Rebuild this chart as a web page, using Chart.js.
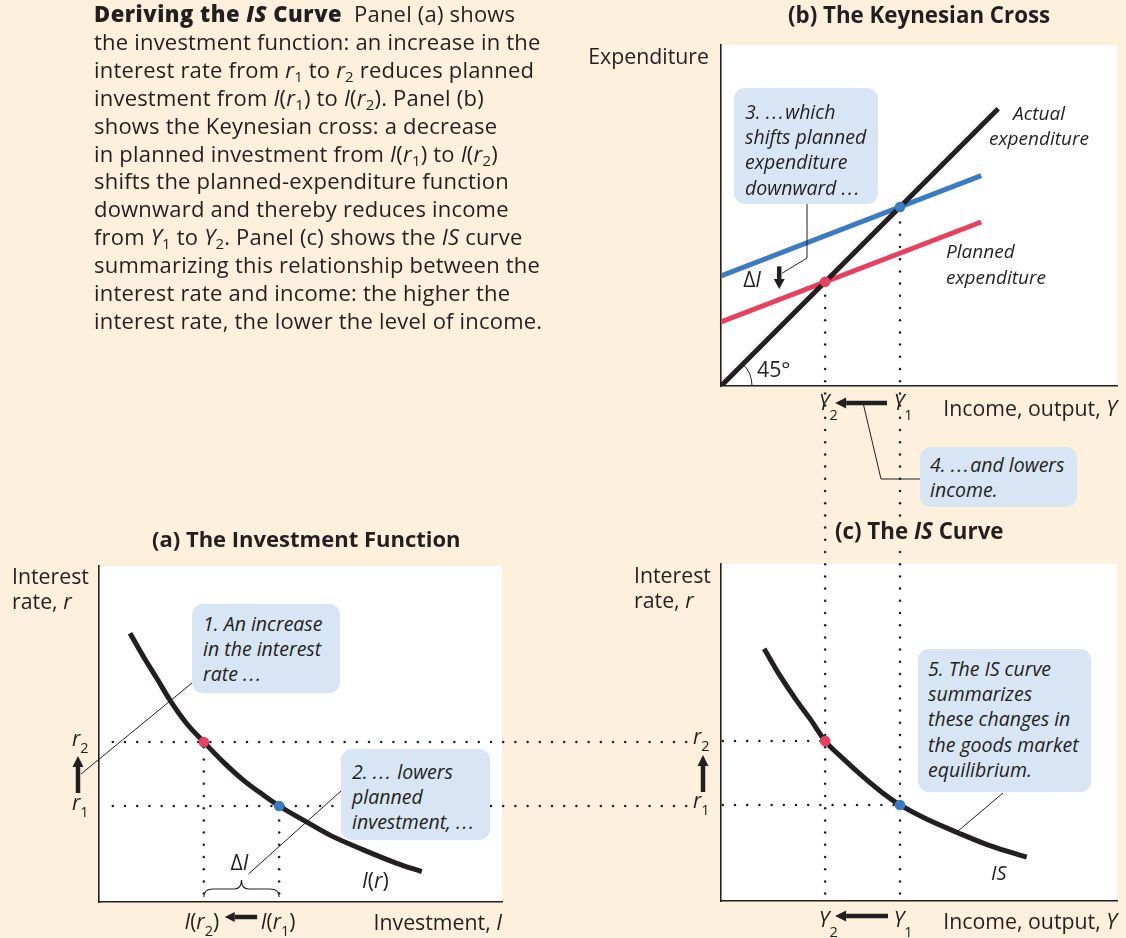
<!DOCTYPE html>
<html>
<head>
<meta charset="utf-8">
<title>Deriving the IS Curve</title>
<script src="https://cdn.jsdelivr.net/npm/chart.js@4.4.1/dist/chart.umd.min.js"></script>
<style>
  html, body { margin:0; padding:0; }
  body { width:1126px; height:938px; position:relative; overflow:hidden; background:#fdf0dc; color:#231f20; font-family: "Open Sans", Lato, sans-serif; }
  canvas.layer { position:absolute; left:0; top:0; }
  .lbl { position:absolute; white-space:nowrap; font-size:21.3px; line-height:22px; }
  .two { line-height:25px; }
  .ttl { font-weight:700; font-size:22.3px; }
  .it { font-style:italic; font-size:19px; }
  .callout { position:absolute; background:#d8e5f4; border-radius:11px; font-style:italic; font-size:19.5px; line-height:25.2px; box-sizing:border-box; white-space:nowrap; }
  .ell { letter-spacing:1.6px; }
  #caption { position:absolute; left:94px; top:0px; font-size:22px; letter-spacing:0.2px; line-height:27.9px; white-space:nowrap; }
  #caption b { font-weight:800; letter-spacing:0.5px; }
  sub { font-size:0.68em; vertical-align:-0.28em; line-height:0; }
</style>
</head>
<body>
<canvas id="cA" class="layer" width="1126" height="938"></canvas>
<canvas id="cB" class="layer" width="1126" height="938"></canvas>
<canvas id="cC" class="layer" width="1126" height="938"></canvas>

<div id="caption"><b>Deriving the <i>IS</i> Curve</b>&nbsp; Panel (a) shows<br>the investment function: an increase in the<br>interest rate from <i>r</i><sub>1</sub> to <i>r</i><sub>2</sub> reduces planned<br>investment from <i>I</i>(<i>r</i><sub>1</sub>) to <i>I</i>(<i>r</i><sub>2</sub>). Panel (b)<br>shows the Keynesian cross: a decrease<br>in planned investment from <i>I</i>(<i>r</i><sub>1</sub>) to <i>I</i>(<i>r</i><sub>2</sub>)<br>shifts the planned-expenditure function<br>downward and thereby reduces income<br>from <i>Y</i><sub>1</sub> to <i>Y</i><sub>2</sub>. Panel (c) shows the <i>IS</i> curve<br>summarizing this relationship between the<br>interest rate and income: the higher the<br>interest rate, the lower the level of income.</div>

<!-- panel (b) texts -->
<div class="lbl ttl" style="left:788px;top:4px;">(b) The Keynesian Cross</div>
<div class="lbl" style="right:417px;top:45px;">Expenditure</div>
<div class="lbl" style="right:9px;top:397px;">Income, output, <i>Y</i></div>
<div class="lbl two it" style="left:979px;width:120px;text-align:center;top:101px;">Actual<br>expenditure</div>
<div class="lbl two it" style="left:946px;top:238px;line-height:26px;">Planned<br>expenditure</div>
<div class="lbl" style="left:757px;top:358px;">45°</div>

<!-- panel (a) texts -->
<div class="lbl ttl" style="left:152px;top:527px;font-size:22px;">(a) The Investment Function</div>
<div class="lbl two" style="left:12px;top:563px;">Interest<br>rate, <i>r</i></div>
<div class="lbl" style="right:624px;top:911px;">Investment, <i>I</i></div>
<div class="lbl" style="left:362px;top:869px;"><i>I</i>(<i>r</i>)</div>

<!-- panel (c) texts -->
<div class="lbl ttl" style="left:831px;top:520px;background:#fdf0dc;padding:0 4px;">(c) The <i>IS</i> Curve</div>
<div class="lbl two" style="left:634px;top:562px;">Interest<br>rate, <i>r</i></div>
<div class="lbl" style="right:9px;top:910px;">Income, output, <i>Y</i></div>
<div class="lbl it" style="left:991px;top:862px;font-size:20px;">IS</div>

<!-- callouts -->
<div class="callout" style="left:192px;top:604px;width:148px;height:89px;padding:7px 0 0 11px;">1. An increase<br>in the interest<br>rate <span class="ell">...</span></div>
<div class="callout" style="left:341px;top:749px;width:149px;height:91px;padding:10px 0 0 11px;">2. <span class="ell">...</span> lowers<br>planned<br>investment, <span class="ell">...</span></div>
<div class="callout" style="left:734px;top:88px;width:144px;height:116px;padding:11px 0 0 11px;">3. <span class="ell">...</span>which<br>shifts planned<br>expenditure<br>downward <span class="ell">...</span></div>
<div class="callout" style="left:920px;top:447px;width:157px;height:60px;padding:5px 0 0 10px;">4. <span class="ell">...</span>and lowers<br>income.</div>
<div class="callout" style="left:918px;top:649px;width:173px;height:143px;padding:7px 0 0 10px;">5. The IS curve<br>summarizes<br>these changes in<br>the goods market<br>equilibrium.</div>

<script>
// ---------------- data (arbitrary units) ----------------
const rateLevels = [3, 5];                 // r1, r2
const rateTickSubs = ['1', '2'];           // tick labels r1, r2
const investmentAtRates = [44.7, 26.0];    // I(r1), I(r2)
const incomeLevels = [45.2, 26.3];         // Y1, Y2
const incomeTickSubs = ['1', '2'];         // tick labels Y1, Y2

// (a) investment function I(r)
const investCurveI = [7.7, 11.0, 14.3, 17.6, 21.8, 26.0, 30.8, 35.8, 40.8, 44.7, 50.7, 57.3, 65.6, 73.9, 80.1];
const investCurveR = [8.40, 7.67, 7.00, 6.31, 5.57, 5.00, 4.38, 3.81, 3.34, 3.00, 2.56, 2.09, 1.63, 1.21, 0.95];

// (b) Keynesian cross
const crossIncome = [0, 65.7];
const plannedExpHigh = [27.8, 53.1];       // with I(r1)
const plannedExpLow = [16.2, 41.4];        // with I(r2)
const actualIncome = [0, 70];
const actualExpenditure = [0, 70];

// (c) IS curve
const isCurveY = [10.9, 14.9, 19.1, 22.5, 26.3, 30.9, 36.0, 40.6, 45.2, 51.9, 59.5, 67.9, 77.2];
const isCurveR = [7.88, 7.04, 6.26, 5.69, 5.00, 4.44, 3.87, 3.40, 3.00, 2.56, 2.15, 1.73, 1.37];

// ---------------- styles ----------------
const INK = '#231f20', RED = '#e9405f', BLUE = '#3a7bc4', PEACH = '#fdf0dc';
const DOT_STEP = 12.2, DOT_PHASE = 3, DOT_R = 1.25;
const FONT = '"Open Sans", Lato, sans-serif';

function axis(min, max) {
  return { type: 'linear', min, max, display: true,
    grid: { display: false, drawTicks: false }, ticks: { display: false },
    border: { display: true, color: INK, width: 1.6 },
    afterFit(s) { if (s.isHorizontal()) s.height = 0; else s.width = 0; } };
}
function pts(xs, ys) { return xs.map((x, i) => ({ x, y: ys[i] })); }
function dotSet(x, y, color) {
  return { data: [{ x, y }], showLine: false, pointRadius: 5.3, pointHoverRadius: 5.3,
    pointBorderWidth: 0, pointBackgroundColor: color, order: 0 };
}
function lineSet(data, color, width, smooth, order) {
  return { data, borderColor: color, borderWidth: width, pointRadius: 0, fill: false,
    cubicInterpolationMode: smooth ? 'monotone' : 'default', tension: 0, order };
}
function dotsV(ctx, x, y1, y2) {
  const lo = Math.min(y1, y2), hi = Math.max(y1, y2);
  ctx.fillStyle = INK;
  for (let k = Math.ceil((lo - DOT_PHASE) / DOT_STEP); k * DOT_STEP + DOT_PHASE <= hi; k++) {
    ctx.beginPath(); ctx.arc(x, k * DOT_STEP + DOT_PHASE, DOT_R, 0, Math.PI * 2); ctx.fill();
  }
}
function dotsH(ctx, y, x1, x2) {
  const lo = Math.min(x1, x2), hi = Math.max(x1, x2);
  ctx.fillStyle = INK;
  for (let k = Math.ceil((lo - DOT_PHASE) / DOT_STEP); k * DOT_STEP + DOT_PHASE <= hi; k++) {
    ctx.beginPath(); ctx.arc(k * DOT_STEP + DOT_PHASE, y, DOT_R, 0, Math.PI * 2); ctx.fill();
  }
}
function arrow(ctx, x1, y1, x2, y2, hl = 11, hw = 5.5, lw = 4.5) {
  const ang = Math.atan2(y2 - y1, x2 - x1);
  const bx = x2 - hl * Math.cos(ang), by = y2 - hl * Math.sin(ang);
  ctx.strokeStyle = INK; ctx.lineWidth = lw; ctx.lineCap = 'butt';
  ctx.beginPath(); ctx.moveTo(x1, y1); ctx.lineTo(bx, by); ctx.stroke();
  ctx.fillStyle = INK; ctx.beginPath(); ctx.moveTo(x2, y2);
  ctx.lineTo(bx + hw * Math.sin(ang), by - hw * Math.cos(ang));
  ctx.lineTo(bx - hw * Math.sin(ang), by + hw * Math.cos(ang));
  ctx.closePath(); ctx.fill();
}
function leader(ctx, points) {
  ctx.strokeStyle = INK; ctx.lineWidth = 1; ctx.beginPath();
  points.forEach(([x, y], i) => i ? ctx.lineTo(x, y) : ctx.moveTo(x, y));
  ctx.stroke();
}
// parts: [text, kind] with kind 'i' italic, 'u' upright, 's' subscript
function mathLabel(ctx, parts, x, baseline, align, subDrop = 8) {
  const fonts = { i: 'italic 21px ' + FONT, u: '21px ' + FONT, s: '14.5px ' + FONT };
  ctx.textBaseline = 'alphabetic'; ctx.textAlign = 'left'; ctx.fillStyle = INK;
  const ws = parts.map(([t, k]) => { ctx.font = fonts[k]; return ctx.measureText(t).width; });
  const total = ws.reduce((s, w) => s + w, 0);
  let cx = align === 'center' ? x - total / 2 : align === 'right' ? x - total
         : align === 'first' ? x - ws[0] / 2 : x;
  parts.forEach(([t, k], i) => { ctx.font = fonts[k]; ctx.fillText(t, cx, baseline + (k === 's' ? subDrop : 0)); cx += ws[i]; });
  return total;
}

function makeChart(id, datasets, xr, yr, pad, hooks) {
  return new Chart(document.getElementById(id), {
    type: 'line',
    data: { datasets },
    options: {
      responsive: false, animation: false, events: [],
      layout: { padding: pad },
      plugins: { legend: { display: false }, tooltip: { enabled: false } },
      scales: { x: axis(xr[0], xr[1]), y: axis(yr[0], yr[1]) }
    },
    plugins: [{
      id: 'panel_' + id,
      beforeDraw(ch) { const a = ch.chartArea, c = ch.ctx; c.save(); c.fillStyle = '#ffffff';
        c.fillRect(a.left, a.top, a.right - a.left, a.bottom - a.top); c.restore(); },
      beforeDatasetsDraw(ch) { ch.ctx.save(); hooks.under(ch); ch.ctx.restore(); },
      afterDatasetsDraw(ch) { ch.ctx.save(); hooks.over(ch); ch.ctx.restore(); }
    }]
  });
}

// ---------------- (c) IS curve ----------------
const chartC = makeChart('cC', [
  dotSet(incomeLevels[1], rateLevels[1], RED),
  dotSet(incomeLevels[0], rateLevels[0], BLUE),
  lineSet(pts(isCurveY, isCurveR), INK, 5, true, 2)
], [0, 100], [0, 10.53], { left: 721, right: 9, top: 564, bottom: 37 }, {
  under(ch) {
    const { ctx, chartArea: a } = ch, X = ch.scales.x, Y = ch.scales.y;
    incomeLevels.forEach((inc, i) => {
      const px = X.getPixelForValue(inc), py = Y.getPixelForValue(rateLevels[i]);
      dotsV(ctx, px, a.top, a.bottom);
      dotsH(ctx, py, a.left, px);
    });
  },
  over(ch) {
    const { ctx, chartArea: a } = ch, X = ch.scales.x, Y = ch.scales.y;
    rateLevels.forEach((r, i) => {
      const py = Y.getPixelForValue(r);
      ctx.fillStyle = PEACH; ctx.fillRect(a.left - 30, py - 9, 22, 19);
      mathLabel(ctx, [['r', 'i'], [rateTickSubs[i], 's']], a.left - 28, py + 3.5, 'left', 7);
    });
    const p1 = Y.getPixelForValue(rateLevels[0]), p2 = Y.getPixelForValue(rateLevels[1]);
    arrow(ctx, a.left - 18, p1 - 13, a.left - 18, p2 + 14);
    const x1 = X.getPixelForValue(incomeLevels[0]), x2 = X.getPixelForValue(incomeLevels[1]);
    mathLabel(ctx, [['Y', 'i'], [incomeTickSubs[1], 's']], x2 - 1, a.bottom + 26, 'first', 10);
    mathLabel(ctx, [['Y', 'i'], [incomeTickSubs[0], 's']], x1 - 1, a.bottom + 26, 'first', 10);
    arrow(ctx, x1 - 12, a.bottom + 15, x2 + 10, a.bottom + 15);
    // leader for callout 5 to the IS curve
    leader(ctx, [[1003, 793], [X.getPixelForValue(isCurveY[10]), Y.getPixelForValue(isCurveR[10])]]);
  }
});

// ---------------- (b) Keynesian cross ----------------
const chartB = makeChart('cB', [
  dotSet(incomeLevels[1], incomeLevels[1], RED),
  dotSet(incomeLevels[0], incomeLevels[0], BLUE),
  lineSet(pts(actualIncome, actualExpenditure), INK, 5, false, 1),
  lineSet(pts(crossIncome, plannedExpHigh), BLUE, 5, false, 2),
  lineSet(pts(crossIncome, plannedExpLow), RED, 5, false, 2)
], [0, 100], [0, 86.1], { left: 721, right: 9, top: 45, bottom: 552 }, {
  under(ch) {
    const { ctx } = ch, X = ch.scales.x, Y = ch.scales.y;
    incomeLevels.forEach(inc => {
      dotsV(ctx, X.getPixelForValue(inc), Y.getPixelForValue(inc), chartC.chartArea.top);
    });
  },
  over(ch) {
    const { ctx, chartArea: a } = ch, X = ch.scales.x, Y = ch.scales.y;
    // 45 degree arc
    ctx.strokeStyle = INK; ctx.lineWidth = 1;
    ctx.beginPath(); ctx.arc(a.left, a.bottom, 31, -Math.PI / 4, 0); ctx.stroke();
    // income tick labels
    const x1 = X.getPixelForValue(incomeLevels[0]), x2 = X.getPixelForValue(incomeLevels[1]);
    mathLabel(ctx, [['Y', 'i'], [incomeTickSubs[1], 's']], x2 - 1, a.bottom + 24, 'first', 10);
    mathLabel(ctx, [['Y', 'i'], [incomeTickSubs[0], 's']], x1 - 1, a.bottom + 24, 'first', 10);
    arrow(ctx, x1 - 13, a.bottom + 17, x2 + 10, a.bottom + 17);
    // Delta I with downward arrow between the planned-expenditure lines
    const ax = X.getPixelForValue(14.7);
    arrow(ctx, ax, Y.getPixelForValue(30.2), ax, Y.getPixelForValue(24.5), 10, 5.5, 4.5);
    mathLabel(ctx, [['Δ', 'u'], ['I', 'i']], ax - 36, Y.getPixelForValue(25.0), 'left');
    // leaders
    leader(ctx, [[807, 204], [807, 258], [ax + 3, Y.getPixelForValue(28.5)]]);
    leader(ctx, [[920, 479], [881, 479], [(x1 + x2) / 2 + 1, a.bottom + 19]]);
  }
});

// ---------------- (a) investment function ----------------
const chartA = makeChart('cA', [
  dotSet(investmentAtRates[1], rateLevels[1], RED),
  dotSet(investmentAtRates[0], rateLevels[0], BLUE),
  lineSet(pts(investCurveI, investCurveR), INK, 5, true, 2)
], [0, 100], [0, 10.5], { left: 99, right: 624, top: 566, bottom: 36 }, {
  under(ch) {
    const { ctx, chartArea: a } = ch, X = ch.scales.x, Y = ch.scales.y;
    rateLevels.forEach((r, i) => {
      const py = Y.getPixelForValue(r), px = X.getPixelForValue(investmentAtRates[i]);
      dotsH(ctx, py, a.left + 5, chartC.chartArea.left);
      dotsV(ctx, px, py, a.bottom);
    });
  },
  over(ch) {
    const { ctx, chartArea: a } = ch, X = ch.scales.x, Y = ch.scales.y;
    rateLevels.forEach((r, i) => {
      const py = Y.getPixelForValue(r);
      mathLabel(ctx, [['r', 'i'], [rateTickSubs[i], 's']], a.left - 27, py + 3.5, 'left', 7);
    });
    const p1 = Y.getPixelForValue(rateLevels[0]), p2 = Y.getPixelForValue(rateLevels[1]);
    arrow(ctx, a.left - 21, p1 - 13, a.left - 21, p2 + 14);
    const i1 = X.getPixelForValue(investmentAtRates[0]), i2 = X.getPixelForValue(investmentAtRates[1]);
    mathLabel(ctx, [['I', 'i'], ['(', 'u'], ['r', 'i'], [rateTickSubs[1], 's'], [')', 'u']], i2 - 2, a.bottom + 27, 'center', 7);
    mathLabel(ctx, [['I', 'i'], ['(', 'u'], ['r', 'i'], [rateTickSubs[0], 's'], [')', 'u']], i1 - 1, a.bottom + 27, 'center', 7);
    arrow(ctx, i1 - 22, a.bottom + 15, i2 + 21, a.bottom + 15, 10, 5, 4.5);
    // brace marking Delta I
    const xc = (i1 + i2) / 2, yb = a.bottom - 5, ym = a.bottom - 13, yt = a.bottom - 22;
    ctx.strokeStyle = INK; ctx.lineWidth = 1.2; ctx.beginPath();
    ctx.moveTo(i2, yb); ctx.quadraticCurveTo(i2, ym, i2 + 9, ym); ctx.lineTo(xc - 7, ym); ctx.quadraticCurveTo(xc, ym, xc, yt);
    ctx.moveTo(i1, yb); ctx.quadraticCurveTo(i1, ym, i1 - 9, ym); ctx.lineTo(xc + 7, ym); ctx.quadraticCurveTo(xc, ym, xc, yt);
    ctx.stroke();
    mathLabel(ctx, [['Δ', 'u'], ['I', 'i']], xc - 2, a.bottom - 32, 'center');
    // leaders
    leader(ctx, [[192, 683], [a.left - 18, (p1 + p2) / 2]]);
    leader(ctx, [[341, 791], [xc + 7, a.bottom - 28]]);
  }
});
</script>
</body>
</html>
